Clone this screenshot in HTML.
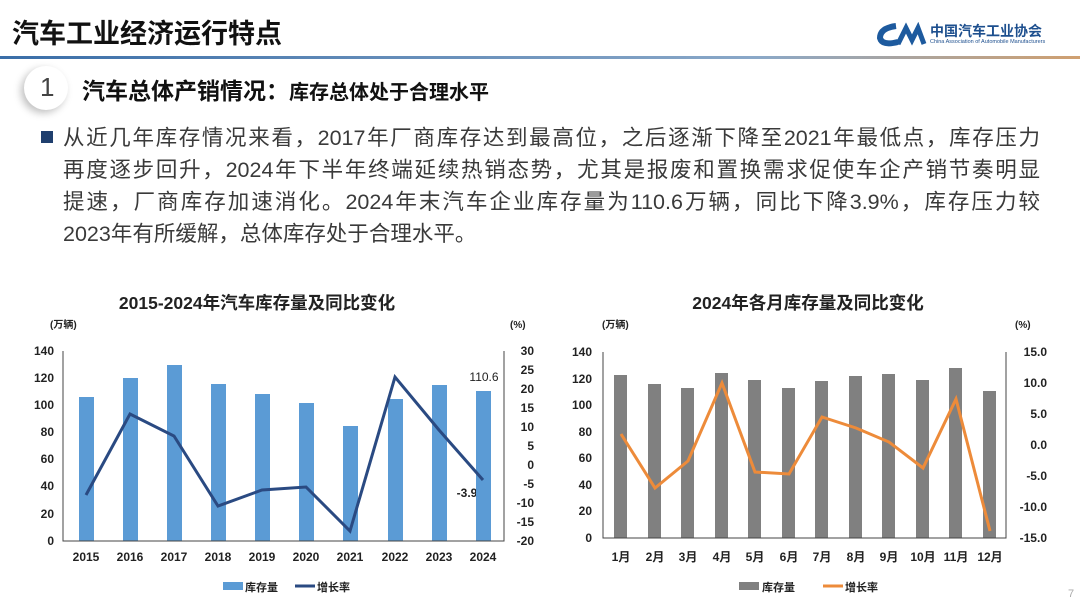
<!DOCTYPE html>
<html><head><meta charset="utf-8"><style>
body{margin:0;width:1080px;height:607px;overflow:hidden;background:#fff;font-family:"Liberation Sans","Noto Sans CJK SC",sans-serif;position:relative}
.a{position:absolute;white-space:nowrap}
.ln{position:absolute;left:63px;width:977px;font-size:21.5px;color:#3a3a3a;text-align:justify;text-align-last:justify;line-height:32px;white-space:nowrap}
</style></head><body>
<div class="a" style="left:12px;top:12px;font-size:27px;font-weight:bold;color:#111">汽车工业经济运行特点</div>
<div class="a" style="left:876px;top:22px;"><svg width="52" height="26"><path d="M20 4 Q4 6 4 16 Q6 24 22 20" stroke="#1d5a9e" stroke-width="6" fill="none"/><path d="M22 22 L30 6 L36 18 L42 6 L48 22" stroke="#1d5a9e" stroke-width="5" fill="none"/></svg></div>
<div class="a" style="left:930px;top:21px;font-size:14px;font-weight:bold;color:#1d4f8e">中国汽车工业协会</div>
<div class="a" style="left:930px;top:39px;font-size:5.5px;color:#1d4f8e">China Association of Automobile Manufacturers</div>
<div class="a" style="left:0;top:56px;width:1080px;height:3px;background:linear-gradient(90deg,#3a6ea8,#8aa8c8 70%,#d0a070)"></div>
<div class="a" style="left:24px;top:66px;width:44px;height:44px;border-radius:50%;background:#fff;box-shadow:-3px 3px 8px rgba(0,0,0,.25)"></div>
<div class="a" style="left:40px;top:72px;font-size:26px;color:#444">1</div>
<div class="a" style="left:82px;top:72px;font-size:23px;font-weight:bold;color:#111">汽车总体产销情况：<span style="font-size:20px">库存总体处于合理水平</span></div>
<div class="a" style="left:41px;top:131px;width:12px;height:12px;background:#1f3f6e"></div>
<div class="ln" style="top:122px">从近几年库存情况来看，2017年厂商库存达到最高位，之后逐渐下降至2021年最低点，库存压力</div>
<div class="ln" style="top:154px">再度逐步回升，2024年下半年终端延续热销态势，尤其是报废和置换需求促使车企产销节奏明显</div>
<div class="ln" style="top:186px">提速，厂商库存加速消化。2024年末汽车企业库存量为110.6万辆，同比下降3.9%，库存压力较</div>
<div class="ln" style="top:218px;text-align-last:left">2023年有所缓解，总体库存处于合理水平。</div>

<svg class="a" style="left:0;top:0" width="1080" height="607" font-family="Liberation Sans,Noto Sans CJK SC,sans-serif">
<g font-weight="bold" fill="#222">
<text x="257" y="309" font-size="17.5" text-anchor="middle">2015-2024年汽车库存量及同比变化</text>
<text x="808" y="309" font-size="17.5" text-anchor="middle">2024年各月库存量及同比变化</text>
<text x="50" y="328" font-size="10">(万辆)</text>
<text x="510" y="328" font-size="10">(%)</text>
<text x="602" y="328" font-size="10">(万辆)</text>
<text x="1015" y="328" font-size="10">(%)</text>
</g>
<g font-size="12" fill="#222" font-weight="bold">
<g text-anchor="end">
<text x="54" y="355">140</text><text x="54" y="382">120</text><text x="54" y="409">100</text><text x="54" y="436">80</text><text x="54" y="463">60</text><text x="54" y="490">40</text><text x="54" y="518">20</text><text x="54" y="545">0</text>
<text x="592" y="356">140</text><text x="592" y="383">120</text><text x="592" y="409">100</text><text x="592" y="436">80</text><text x="592" y="462">60</text><text x="592" y="489">40</text><text x="592" y="515">20</text><text x="592" y="542">0</text>
</g>
<g text-anchor="end">
<text x="534" y="355">30</text><text x="534" y="374">25</text><text x="534" y="393">20</text><text x="534" y="412">15</text><text x="534" y="431">10</text><text x="534" y="450">5</text><text x="534" y="469">0</text><text x="534" y="488">-5</text><text x="534" y="507">-10</text><text x="534" y="526">-15</text><text x="534" y="545">-20</text>
<text x="1047" y="356">15.0</text><text x="1047" y="387">10.0</text><text x="1047" y="418">5.0</text><text x="1047" y="449">0.0</text><text x="1047" y="480">-5.0</text><text x="1047" y="511">-10.0</text><text x="1047" y="542">-15.0</text>
</g>
<g text-anchor="middle">
<text x="86" y="561">2015</text><text x="130" y="561">2016</text><text x="174" y="561">2017</text><text x="218" y="561">2018</text><text x="262" y="561">2019</text><text x="306" y="561">2020</text><text x="350" y="561">2021</text><text x="395" y="561">2022</text><text x="439" y="561">2023</text><text x="483" y="561">2024</text>
<text x="621" y="561">1月</text><text x="655" y="561">2月</text><text x="688" y="561">3月</text><text x="722" y="561">4月</text><text x="755" y="561">5月</text><text x="789" y="561">6月</text><text x="822" y="561">7月</text><text x="856" y="561">8月</text><text x="889" y="561">9月</text><text x="923" y="561">10月</text><text x="956" y="561">11月</text><text x="990" y="561">12月</text>
</g>
<text x="484" y="381" text-anchor="middle" font-weight="normal" font-size="12">110.6</text>
<text x="467" y="497" text-anchor="middle" font-size="12">-3.9</text>
</g>
<g fill="#5b9bd5">
<rect x="79" y="397" width="15" height="144"/><rect x="123" y="378" width="15" height="163"/><rect x="167" y="365" width="15" height="176"/><rect x="211" y="384" width="15" height="157"/><rect x="255" y="394" width="15" height="147"/><rect x="299" y="403" width="15" height="138"/><rect x="343" y="426" width="15" height="115"/><rect x="388" y="399" width="15" height="142"/><rect x="432" y="385" width="15" height="156"/><rect x="476" y="391" width="15" height="150"/>
</g>
<path d="M63 351 V541 H504 V351" fill="none" stroke="#444" stroke-width="1"/>
<polyline fill="none" stroke="#2a4a82" stroke-width="3" points="86,495 130,414 174,436 218,506 262,490 306,487 350,531 395,377 439,430 483,480"/>
<g fill="#808080">
<rect x="614" y="375" width="13" height="163"/><rect x="648" y="384" width="13" height="154"/><rect x="681" y="388" width="13" height="150"/><rect x="715" y="373" width="13" height="165"/><rect x="748" y="380" width="13" height="158"/><rect x="782" y="388" width="13" height="150"/><rect x="815" y="381" width="13" height="157"/><rect x="849" y="376" width="13" height="162"/><rect x="882" y="374" width="13" height="164"/><rect x="916" y="380" width="13" height="158"/><rect x="949" y="368" width="13" height="170"/><rect x="983" y="391" width="13" height="147"/>
</g>
<path d="M603 352 V538 H1006 V352" fill="none" stroke="#444" stroke-width="1"/>
<polyline fill="none" stroke="#ed8b3a" stroke-width="3" points="621,434 655,488 688,461 722,383 755,472 789,474 822,417 856,428 889,442 923,468 956,399 990,531"/>
<rect x="223" y="582" width="20" height="8" fill="#5b9bd5"/>
<text x="245" y="591" font-size="11" font-weight="bold" fill="#222">库存量</text>
<line x1="295" y1="586" x2="315" y2="586" stroke="#2a4a82" stroke-width="3"/>
<text x="317" y="591" font-size="11" font-weight="bold" fill="#222">增长率</text>
<rect x="739" y="582" width="20" height="8" fill="#808080"/>
<text x="762" y="591" font-size="11" font-weight="bold" fill="#222">库存量</text>
<line x1="823" y1="586" x2="843" y2="586" stroke="#ed8b3a" stroke-width="3"/>
<text x="845" y="591" font-size="11" font-weight="bold" fill="#222">增长率</text>
<text x="1068" y="597" font-size="11" fill="#aaa">7</text>
</svg>
</body></html>
